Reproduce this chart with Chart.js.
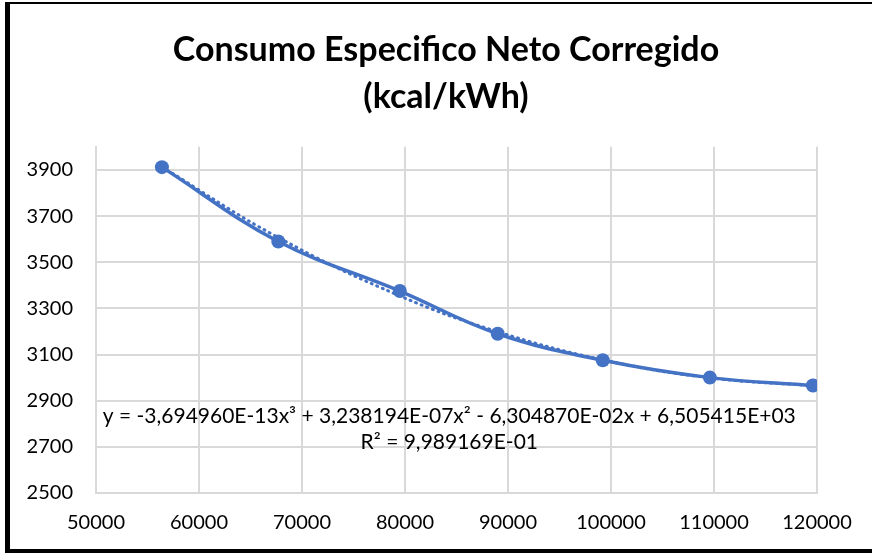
<!DOCTYPE html>
<html>
<head>
<meta charset="utf-8">
<script src="https://cdn.jsdelivr.net/npm/chart.js@4/dist/chart.umd.min.js"></script>
<style>
  html, body { margin: 0; padding: 0; background: #fff; }
  #wrap { position: relative; width: 872px; height: 553px; overflow: hidden; }
  #frame { position: absolute; left: 5px; top: 2px; width: 900px; height: 551px;
           border-left: 5px solid #000; border-top: 2px solid #000; border-bottom: 4px solid #000; box-sizing: border-box; pointer-events: none; }
  canvas { position: absolute; left: 0; top: 0; }
</style>
</head>
<body>
<div id="wrap">
  <canvas id="c" width="872" height="553"></canvas>
  <div id="frame"></div>
</div>
<script>
// ---- data ----
const titleLines = ['Consumo Especifico Neto Corregido', '(kcal/kWh)'];
const potencia = [56400, 67700, 79500, 89000, 99200, 109600, 119600];
const consumo = [3912, 3590, 3375, 3190, 3075, 3000, 2966];
const tendencia = [3913, 3607, 3354, 3199, 3077, 2999, 2965];
const xTicks = [50000, 60000, 70000, 80000, 90000, 100000, 110000, 120000];
const yTicks = [2500, 2700, 2900, 3100, 3300, 3500, 3700, 3900];
const equationLines = [
  'y = -3,694960E-13x³ + 3,238194E-07x² - 6,304870E-02x + 6,505415E+03',
  'R² = 9,989169E-01'
];

const blue = '#4472C4';
const grid = '#d9d9d9';
const FONT = 'Lato, "Open Sans", sans-serif';

const equationPlugin = {
  id: 'equation',
  afterLayout(chart) {
    // centre the title like the reference (centre ≈ x 446)
    const tb = chart.titleBlock;
    if (tb) {
      const shift = 446 - (tb.left + tb.right) / 2;
      tb.left += shift; tb.right += shift;
    }
  },
  afterDatasetsDraw(chart) {
    const ctx = chart.ctx;
    const xs = chart.scales.x, ys = chart.scales.y;
    ctx.save();
    ctx.font = '21px ' + FONT;
    ctx.fillStyle = '#000';
    ctx.textAlign = 'center';
    ctx.textBaseline = 'middle';
    const cx = xs.getPixelForValue(84300);
    ctx.fillText(equationLines[0], cx, ys.getPixelForValue(2833));
    ctx.fillText(equationLines[1], cx, ys.getPixelForValue(2720));
    ctx.restore();
  }
};

new Chart(document.getElementById('c'), {
  type: 'scatter',
  data: {
    datasets: [
      {
        label: 'Consumo',
        data: potencia.map((x, i) => ({ x, y: consumo[i] })),
        showLine: true,
        borderColor: blue,
        backgroundColor: blue,
        borderWidth: 3.5,
        pointRadius: 7,
        pointBorderWidth: 0,
        tension: 0.4,
        order: 1
      },
      {
        label: 'Tendencia',
        data: potencia.map((x, i) => ({ x, y: tendencia[i] })),
        showLine: true,
        borderColor: blue,
        borderWidth: 3,
        borderDash: [1, 5],
        borderCapStyle: 'round',
        pointRadius: 0,
        tension: 0.4,
        order: 2
      }
    ]
  },
  options: {
    responsive: false,
    animation: false,
    devicePixelRatio: 1,
    layout: { padding: { left: 0, right: 55, top: 0, bottom: 0 } },
    plugins: {
      legend: { display: false },
      tooltip: { enabled: false },
      title: {
        display: true,
        text: titleLines,
        color: '#000',
        font: { family: FONT, size: 34, weight: 'bold', lineHeight: 1.38 },
        padding: { top: 27, bottom: 26 }
      }
    },
    scales: {
      x: {
        type: 'linear',
        min: 50000,
        max: 120000,
        afterBuildTicks: s => { s.ticks = xTicks.map(v => ({ value: v })); },
        afterFit: s => { s.height = 60; },
        ticks: { color: '#000', font: { family: FONT, size: 20 }, padding: 18, maxRotation: 0,
                 callback: v => String(v) },
        grid: { color: grid, lineWidth: 2, drawTicks: false },
        border: { color: grid, width: 2 }
      },
      y: {
        type: 'linear',
        min: 2500,
        max: 4000,
        afterBuildTicks: s => { s.ticks = yTicks.map(v => ({ value: v })); },
        afterFit: s => { s.width = 96; },
        ticks: { color: '#000', font: { family: FONT, size: 20 }, padding: 23,
                 callback: v => String(v) },
        grid: { color: grid, lineWidth: 2, drawTicks: false },
        border: { color: grid, width: 2 }
      }
    }
  },
  plugins: [equationPlugin]
});
</script>
</body>
</html>
